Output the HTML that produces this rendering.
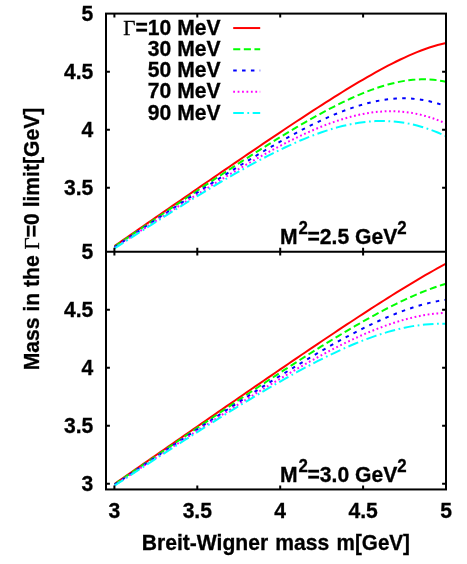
<!DOCTYPE html>
<html><head><meta charset="utf-8"><title>plot</title>
<style>html,body{margin:0;padding:0;background:#fff;}svg{display:block;will-change:transform;}</style>
</head><body>
<svg width="467" height="564" viewBox="0 0 467 564">
<rect width="100%" height="100%" fill="#fff"/>
<path d="M114.40,246.13 L118.54,243.25 L122.69,240.38 L126.84,237.50 L130.98,234.63 L135.12,231.75 L139.27,228.88 L143.41,226.01 L147.56,223.14 L151.71,220.27 L155.85,217.39 L160.00,214.53 L164.14,211.66 L168.29,208.79 L172.43,205.92 L176.58,203.06 L180.72,200.20 L184.86,197.33 L189.01,194.47 L193.16,191.62 L197.30,188.76 L201.44,185.90 L205.59,183.05 L209.74,180.20 L213.88,177.35 L218.03,174.51 L222.17,171.66 L226.31,168.82 L230.46,165.99 L234.61,163.16 L238.75,160.33 L242.90,157.50 L247.04,154.68 L251.19,151.86 L255.33,149.05 L259.48,146.24 L263.62,143.44 L267.76,140.64 L271.91,137.85 L276.06,135.07 L280.20,132.30 L284.35,129.53 L288.49,126.77 L292.64,124.02 L296.78,121.28 L300.93,118.55 L305.07,115.83 L309.22,113.12 L313.36,110.42 L317.50,107.74 L321.65,105.08 L325.80,102.43 L329.94,99.79 L334.09,97.18 L338.23,94.58 L342.38,92.01 L346.52,89.46 L350.66,86.94 L354.81,84.44 L358.95,81.97 L363.10,79.54 L367.25,77.13 L371.39,74.77 L375.54,72.44 L379.68,70.16 L383.83,67.92 L387.97,65.73 L392.12,63.59 L396.26,61.51 L400.40,59.50 L404.55,57.55 L408.70,55.67 L412.84,53.87 L416.99,52.15 L421.13,50.52 L425.27,48.98 L429.42,47.55 L433.57,46.23 L437.71,45.02 L441.86,43.93 L446.00,42.98" fill="none" stroke="#ff0000" stroke-width="2"/>
<path d="M114.40,246.76 L118.54,243.94 L122.69,241.12 L126.84,238.30 L130.98,235.48 L135.12,232.66 L139.27,229.84 L143.41,227.03 L147.56,224.22 L151.71,221.41 L155.85,218.60 L160.00,215.79 L164.14,212.99 L168.29,210.19 L172.43,207.40 L176.58,204.60 L180.72,201.82 L184.86,199.03 L189.01,196.25 L193.16,193.48 L197.30,190.71 L201.44,187.95 L205.59,185.19 L209.74,182.44 L213.88,179.69 L218.03,176.95 L222.17,174.22 L226.31,171.50 L230.46,168.79 L234.61,166.08 L238.75,163.39 L242.90,160.71 L247.04,158.04 L251.19,155.38 L255.33,152.73 L259.48,150.10 L263.62,147.48 L267.76,144.88 L271.91,142.29 L276.06,139.72 L280.20,137.17 L284.35,134.65 L288.49,132.14 L292.64,129.66 L296.78,127.20 L300.93,124.77 L305.07,122.37 L309.22,119.99 L313.36,117.66 L317.50,115.35 L321.65,113.08 L325.80,110.86 L329.94,108.67 L334.09,106.53 L338.23,104.44 L342.38,102.41 L346.52,100.42 L350.66,98.50 L354.81,96.64 L358.95,94.84 L363.10,93.12 L367.25,91.47 L371.39,89.90 L375.54,88.42 L379.68,87.02 L383.83,85.73 L387.97,84.53 L392.12,83.44 L396.26,82.47 L400.40,81.61 L404.55,80.88 L408.70,80.28 L412.84,79.82 L416.99,79.50 L421.13,79.33 L425.27,79.31 L429.42,79.46 L433.57,79.78 L437.71,80.27 L441.86,80.93 L446.00,81.77" fill="none" stroke="#00ff00" stroke-width="2" stroke-dasharray="7.08 3.54"/>
<path d="M114.40,247.37 L118.54,244.60 L122.69,241.83 L126.84,239.06 L130.98,236.29 L135.12,233.53 L139.27,230.77 L143.41,228.01 L147.56,225.26 L151.71,222.51 L155.85,219.76 L160.00,217.01 L164.14,214.28 L168.29,211.54 L172.43,208.81 L176.58,206.09 L180.72,203.37 L184.86,200.66 L189.01,197.96 L193.16,195.26 L197.30,192.58 L201.44,189.90 L205.59,187.23 L209.74,184.57 L213.88,181.92 L218.03,179.28 L222.17,176.66 L226.31,174.04 L230.46,171.44 L234.61,168.86 L238.75,166.29 L242.90,163.73 L247.04,161.20 L251.19,158.68 L255.33,156.18 L259.48,153.70 L263.62,151.24 L267.76,148.81 L271.91,146.41 L276.06,144.03 L280.20,141.67 L284.35,139.35 L288.49,137.07 L292.64,134.81 L296.78,132.59 L300.93,130.41 L305.07,128.28 L309.22,126.18 L313.36,124.14 L317.50,122.14 L321.65,120.19 L325.80,118.30 L329.94,116.47 L334.09,114.70 L338.23,113.00 L342.38,111.37 L346.52,109.81 L350.66,108.34 L354.81,106.94 L358.95,105.63 L363.10,104.41 L367.25,103.29 L371.39,102.27 L375.54,101.36 L379.68,100.55 L383.83,99.87 L387.97,99.30 L392.12,98.86 L396.26,98.55 L400.40,98.38 L404.55,98.34 L408.70,98.45 L412.84,98.71 L416.99,99.11 L421.13,99.68 L425.27,100.40 L429.42,101.27 L433.57,102.31 L437.71,103.51 L441.86,104.87 L446.00,106.39" fill="none" stroke="#0000ff" stroke-width="2" stroke-dasharray="3.54 5.31"/>
<path d="M114.40,247.94 L118.54,245.22 L122.69,242.51 L126.84,239.79 L130.98,237.08 L135.12,234.37 L139.27,231.66 L143.41,228.96 L147.56,226.26 L151.71,223.56 L155.85,220.87 L160.00,218.19 L164.14,215.51 L168.29,212.84 L172.43,210.17 L176.58,207.52 L180.72,204.87 L184.86,202.23 L189.01,199.60 L193.16,196.98 L197.30,194.37 L201.44,191.77 L205.59,189.18 L209.74,186.61 L213.88,184.05 L218.03,181.50 L222.17,178.97 L226.31,176.46 L230.46,173.96 L234.61,171.48 L238.75,169.03 L242.90,166.59 L247.04,164.18 L251.19,161.78 L255.33,159.42 L259.48,157.08 L263.62,154.77 L267.76,152.49 L271.91,150.24 L276.06,148.02 L280.20,145.84 L284.35,143.70 L288.49,141.60 L292.64,139.54 L296.78,137.53 L300.93,135.56 L305.07,133.65 L309.22,131.79 L313.36,129.98 L317.50,128.23 L321.65,126.55 L325.80,124.93 L329.94,123.38 L334.09,121.91 L338.23,120.51 L342.38,119.20 L346.52,117.97 L350.66,116.82 L354.81,115.77 L358.95,114.82 L363.10,113.97 L367.25,113.23 L371.39,112.59 L375.54,112.07 L379.68,111.67 L383.83,111.39 L387.97,111.24 L392.12,111.21 L396.26,111.32 L400.40,111.56 L404.55,111.94 L408.70,112.46 L412.84,113.12 L416.99,113.92 L421.13,114.87 L425.27,115.96 L429.42,117.19 L433.57,118.56 L437.71,120.07 L441.86,121.72 L446.00,123.49" fill="none" stroke="#ff00ff" stroke-width="2" stroke-dasharray="1.77 2.66"/>
<path d="M114.40,248.49 L118.54,245.82 L122.69,243.16 L126.84,240.49 L130.98,237.83 L135.12,235.17 L139.27,232.52 L143.41,229.87 L147.56,227.22 L151.71,224.58 L155.85,221.95 L160.00,219.32 L164.14,216.70 L168.29,214.09 L172.43,211.49 L176.58,208.89 L180.72,206.31 L184.86,203.73 L189.01,201.17 L193.16,198.62 L197.30,196.08 L201.44,193.56 L205.59,191.05 L209.74,188.56 L213.88,186.08 L218.03,183.62 L222.17,181.18 L226.31,178.76 L230.46,176.36 L234.61,173.98 L238.75,171.62 L242.90,169.30 L247.04,166.99 L251.19,164.72 L255.33,162.47 L259.48,160.26 L263.62,158.07 L267.76,155.93 L271.91,153.82 L276.06,151.75 L280.20,149.72 L284.35,147.73 L288.49,145.80 L292.64,143.91 L296.78,142.07 L300.93,140.28 L305.07,138.55 L309.22,136.89 L313.36,135.28 L317.50,133.74 L321.65,132.27 L325.80,130.88 L329.94,129.56 L334.09,128.32 L338.23,127.16 L342.38,126.09 L346.52,125.11 L350.66,124.23 L354.81,123.44 L358.95,122.76 L363.10,122.18 L367.25,121.71 L371.39,121.36 L375.54,121.11 L379.68,120.99 L383.83,120.99 L387.97,121.11 L392.12,121.35 L396.26,121.73 L400.40,122.23 L404.55,122.86 L408.70,123.62 L412.84,124.51 L416.99,125.53 L421.13,126.68 L425.27,127.96 L429.42,129.36 L433.57,130.87 L437.71,132.51 L441.86,134.26 L446.00,136.11" fill="none" stroke="#00ffff" stroke-width="2" stroke-dasharray="10.62 3.54 1.77 3.54"/>
<path d="M114.40,483.99 L118.54,481.11 L122.69,478.23 L126.84,475.35 L130.98,472.47 L135.12,469.60 L139.27,466.72 L143.41,463.84 L147.56,460.96 L151.71,458.08 L155.85,455.21 L160.00,452.33 L164.14,449.46 L168.29,446.58 L172.43,443.71 L176.58,440.83 L180.72,437.96 L184.86,435.09 L189.01,432.22 L193.16,429.34 L197.30,426.47 L201.44,423.61 L205.59,420.74 L209.74,417.87 L213.88,415.01 L218.03,412.14 L222.17,409.28 L226.31,406.42 L230.46,403.56 L234.61,400.70 L238.75,397.84 L242.90,394.99 L247.04,392.13 L251.19,389.28 L255.33,386.43 L259.48,383.59 L263.62,380.74 L267.76,377.90 L271.91,375.06 L276.06,372.23 L280.20,369.40 L284.35,366.57 L288.49,363.74 L292.64,360.92 L296.78,358.10 L300.93,355.29 L305.07,352.48 L309.22,349.67 L313.36,346.87 L317.50,344.08 L321.65,341.29 L325.80,338.51 L329.94,335.73 L334.09,332.96 L338.23,330.20 L342.38,327.45 L346.52,324.70 L350.66,321.96 L354.81,319.24 L358.95,316.52 L363.10,313.82 L367.25,311.12 L371.39,308.44 L375.54,305.77 L379.68,303.12 L383.83,300.48 L387.97,297.86 L392.12,295.26 L396.26,292.67 L400.40,290.11 L404.55,287.56 L408.70,285.04 L412.84,282.55 L416.99,280.08 L421.13,277.64 L425.27,275.23 L429.42,272.85 L433.57,270.50 L437.71,268.20 L441.86,265.93 L446.00,263.71" fill="none" stroke="#ff0000" stroke-width="2"/>
<path d="M114.40,484.45 L118.54,481.61 L122.69,478.78 L126.84,475.95 L130.98,473.11 L135.12,470.28 L139.27,467.45 L143.41,464.62 L147.56,461.78 L151.71,458.96 L155.85,456.13 L160.00,453.30 L164.14,450.47 L168.29,447.65 L172.43,444.83 L176.58,442.01 L180.72,439.19 L184.86,436.37 L189.01,433.56 L193.16,430.75 L197.30,427.94 L201.44,425.13 L205.59,422.33 L209.74,419.53 L213.88,416.73 L218.03,413.94 L222.17,411.15 L226.31,408.36 L230.46,405.58 L234.61,402.81 L238.75,400.03 L242.90,397.27 L247.04,394.51 L251.19,391.75 L255.33,389.00 L259.48,386.26 L263.62,383.52 L267.76,380.79 L271.91,378.07 L276.06,375.36 L280.20,372.65 L284.35,369.96 L288.49,367.27 L292.64,364.60 L296.78,361.93 L300.93,359.28 L305.07,356.64 L309.22,354.01 L313.36,351.40 L317.50,348.80 L321.65,346.21 L325.80,343.65 L329.94,341.10 L334.09,338.56 L338.23,336.05 L342.38,333.56 L346.52,331.09 L350.66,328.65 L354.81,326.23 L358.95,323.83 L363.10,321.47 L367.25,319.13 L371.39,316.83 L375.54,314.56 L379.68,312.33 L383.83,310.13 L387.97,307.98 L392.12,305.87 L396.26,303.80 L400.40,301.78 L404.55,299.82 L408.70,297.91 L412.84,296.05 L416.99,294.26 L421.13,292.53 L425.27,290.87 L429.42,289.29 L433.57,287.78 L437.71,286.35 L441.86,285.00 L446.00,283.74" fill="none" stroke="#00ff00" stroke-width="2" stroke-dasharray="7.08 3.54"/>
<path d="M114.40,484.88 L118.54,482.09 L122.69,479.31 L126.84,476.52 L130.98,473.73 L135.12,470.94 L139.27,468.15 L143.41,465.37 L147.56,462.58 L151.71,459.80 L155.85,457.02 L160.00,454.24 L164.14,451.46 L168.29,448.69 L172.43,445.91 L176.58,443.14 L180.72,440.38 L184.86,437.62 L189.01,434.86 L193.16,432.10 L197.30,429.35 L201.44,426.61 L205.59,423.86 L209.74,421.13 L213.88,418.40 L218.03,415.67 L222.17,412.95 L226.31,410.24 L230.46,407.53 L234.61,404.83 L238.75,402.14 L242.90,399.46 L247.04,396.78 L251.19,394.12 L255.33,391.46 L259.48,388.81 L263.62,386.18 L267.76,383.55 L271.91,380.94 L276.06,378.34 L280.20,375.75 L284.35,373.18 L288.49,370.62 L292.64,368.08 L296.78,365.55 L300.93,363.04 L305.07,360.55 L309.22,358.08 L313.36,355.63 L317.50,353.21 L321.65,350.80 L325.80,348.42 L329.94,346.07 L334.09,343.75 L338.23,341.45 L342.38,339.19 L346.52,336.95 L350.66,334.75 L354.81,332.59 L358.95,330.47 L363.10,328.39 L367.25,326.35 L371.39,324.36 L375.54,322.41 L379.68,320.52 L383.83,318.68 L387.97,316.89 L392.12,315.17 L396.26,313.50 L400.40,311.91 L404.55,310.38 L408.70,308.93 L412.84,307.55 L416.99,306.25 L421.13,305.04 L425.27,303.92 L429.42,302.88 L433.57,301.95 L437.71,301.11 L441.86,300.38 L446.00,299.76" fill="none" stroke="#0000ff" stroke-width="2" stroke-dasharray="3.54 5.31"/>
<path d="M114.40,485.30 L118.54,482.55 L122.69,479.81 L126.84,477.06 L130.98,474.32 L135.12,471.57 L139.27,468.83 L143.41,466.09 L147.56,463.35 L151.71,460.61 L155.85,457.88 L160.00,455.14 L164.14,452.41 L168.29,449.69 L172.43,446.96 L176.58,444.25 L180.72,441.53 L184.86,438.82 L189.01,436.12 L193.16,433.42 L197.30,430.72 L201.44,428.03 L205.59,425.35 L209.74,422.67 L213.88,420.01 L218.03,417.35 L222.17,414.69 L226.31,412.05 L230.46,409.41 L234.61,406.79 L238.75,404.17 L242.90,401.56 L247.04,398.97 L251.19,396.39 L255.33,393.82 L259.48,391.26 L263.62,388.72 L267.76,386.19 L271.91,383.67 L276.06,381.18 L280.20,378.70 L284.35,376.24 L288.49,373.80 L292.64,371.37 L296.78,368.97 L300.93,366.60 L305.07,364.24 L309.22,361.91 L313.36,359.61 L317.50,357.34 L321.65,355.09 L325.80,352.88 L329.94,350.70 L334.09,348.56 L338.23,346.45 L342.38,344.38 L346.52,342.35 L350.66,340.36 L354.81,338.42 L358.95,336.53 L363.10,334.68 L367.25,332.89 L371.39,331.15 L375.54,329.47 L379.68,327.85 L383.83,326.30 L387.97,324.81 L392.12,323.39 L396.26,322.05 L400.40,320.78 L404.55,319.59 L408.70,318.49 L412.84,317.47 L416.99,316.54 L421.13,315.71 L425.27,314.98 L429.42,314.34 L433.57,313.81 L437.71,313.39 L441.86,313.08 L446.00,312.89" fill="none" stroke="#ff00ff" stroke-width="2" stroke-dasharray="1.77 2.66"/>
<path d="M114.40,485.70 L118.54,482.99 L122.69,480.29 L126.84,477.59 L130.98,474.89 L135.12,472.19 L139.27,469.49 L143.41,466.79 L147.56,464.09 L151.71,461.40 L155.85,458.71 L160.00,456.02 L164.14,453.34 L168.29,450.66 L172.43,447.98 L176.58,445.31 L180.72,442.65 L184.86,439.99 L189.01,437.33 L193.16,434.69 L197.30,432.05 L201.44,429.41 L205.59,426.79 L209.74,424.17 L213.88,421.56 L218.03,418.96 L222.17,416.37 L226.31,413.79 L230.46,411.22 L234.61,408.67 L238.75,406.12 L242.90,403.59 L247.04,401.07 L251.19,398.57 L255.33,396.08 L259.48,393.60 L263.62,391.15 L267.76,388.71 L271.91,386.29 L276.06,383.89 L280.20,381.51 L284.35,379.15 L288.49,376.81 L292.64,374.50 L296.78,372.21 L300.93,369.96 L305.07,367.73 L309.22,365.52 L313.36,363.35 L317.50,361.22 L321.65,359.12 L325.80,357.05 L329.94,355.02 L334.09,353.03 L338.23,351.09 L342.38,349.19 L346.52,347.34 L350.66,345.53 L354.81,343.78 L358.95,342.08 L363.10,340.43 L367.25,338.85 L371.39,337.32 L375.54,335.86 L379.68,334.47 L383.83,333.15 L387.97,331.90 L392.12,330.73 L396.26,329.64 L400.40,328.63 L404.55,327.71 L408.70,326.87 L412.84,326.13 L416.99,325.48 L421.13,324.93 L425.27,324.49 L429.42,324.14 L433.57,323.91 L437.71,323.78 L441.86,323.77 L446.00,323.87" fill="none" stroke="#00ffff" stroke-width="2" stroke-dasharray="10.62 3.54 1.77 3.54"/>
<path d="M233.20,28.05 L260.20,28.05" fill="none" stroke="#ff0000" stroke-width="2"/>
<path d="M233.20,49.29 L260.20,49.29" fill="none" stroke="#00ff00" stroke-width="2" stroke-dasharray="7.08 3.54"/>
<path d="M233.20,70.53 L260.20,70.53" fill="none" stroke="#0000ff" stroke-width="2" stroke-dasharray="3.54 5.31"/>
<path d="M233.20,91.77 L260.20,91.77" fill="none" stroke="#ff00ff" stroke-width="2" stroke-dasharray="1.77 2.66"/>
<path d="M233.20,113.01 L260.20,113.01" fill="none" stroke="#00ffff" stroke-width="2" stroke-dasharray="10.62 3.54 1.77 3.54"/>
<g stroke="#000" stroke-width="2" fill="none">
<rect x="106.00" y="13.60" width="340.00" height="475.85"/>
<path d="M106.00,251.65 H446.00"/>
<path d="M114.40,13.60 v3.90 M114.40,247.75 v7.80 M114.40,489.45 v-3.90 M197.30,13.60 v3.90 M197.30,247.75 v7.80 M197.30,489.45 v-3.90 M280.20,13.60 v3.90 M280.20,247.75 v7.80 M280.20,489.45 v-3.90 M363.10,13.60 v3.90 M363.10,247.75 v7.80 M363.10,489.45 v-3.90 M106.00,71.65 h3.90 M446.00,71.65 h-3.90 M106.00,309.68 h3.90 M446.00,309.68 h-3.90 M106.00,129.70 h3.90 M446.00,129.70 h-3.90 M106.00,367.70 h3.90 M446.00,367.70 h-3.90 M106.00,187.75 h3.90 M446.00,187.75 h-3.90 M106.00,425.73 h3.90 M446.00,425.73 h-3.90 M106.00,483.75 h3.90 M446.00,483.75 h-3.90"/>
</g>
<g font-family="'Liberation Sans', sans-serif" font-weight="bold" font-size="21.10" fill="#000" stroke="#000" stroke-width="0.3">
<text transform="translate(93.30,21.00) scale(1,1.040)" text-anchor="end">5</text>
<text transform="translate(93.30,79.05) scale(1,1.040)" text-anchor="end">4.5</text>
<text transform="translate(93.30,137.10) scale(1,1.040)" text-anchor="end">4</text>
<text transform="translate(93.30,195.15) scale(1,1.040)" text-anchor="end">3.5</text>
<text transform="translate(93.30,258.95) scale(1,1.040)" text-anchor="end">5</text>
<text transform="translate(93.30,316.98) scale(1,1.040)" text-anchor="end">4.5</text>
<text transform="translate(93.30,375.00) scale(1,1.040)" text-anchor="end">4</text>
<text transform="translate(93.30,433.03) scale(1,1.040)" text-anchor="end">3.5</text>
<text transform="translate(93.30,491.05) scale(1,1.040)" text-anchor="end">3</text>
<text transform="translate(114.40,517.90) scale(1,1.040)" text-anchor="middle">3</text>
<text transform="translate(197.30,517.90) scale(1,1.040)" text-anchor="middle">3.5</text>
<text transform="translate(280.20,517.90) scale(1,1.040)" text-anchor="middle">4</text>
<text transform="translate(363.10,517.90) scale(1,1.040)" text-anchor="middle">4.5</text>
<text transform="translate(446.00,517.90) scale(1,1.040)" text-anchor="middle">5</text>
<text transform="translate(141.80,549.60) scale(1,1.040)">Breit-Wigner</text>
<text transform="translate(275.30,549.60) scale(1,1.040)">mass</text>
<text transform="translate(336.60,549.60) scale(1,1.040)" textLength="73.4" lengthAdjust="spacingAndGlyphs">m[GeV]</text>
<text transform="translate(39.30,370.20) rotate(-90) scale(1,1.040)">Mass in the <tspan font-family="'Liberation Serif', serif" font-weight="normal">Γ</tspan>=0 limit[GeV]</text>
<text transform="translate(220.50,34.55) scale(1,1.040)" text-anchor="end"><tspan font-family="'Liberation Serif', serif" font-weight="normal">Γ</tspan>=10 MeV</text>
<text transform="translate(220.50,55.79) scale(1,1.040)" text-anchor="end">30 MeV</text>
<text transform="translate(220.50,77.03) scale(1,1.040)" text-anchor="end">50 MeV</text>
<text transform="translate(220.50,98.27) scale(1,1.040)" text-anchor="end">70 MeV</text>
<text transform="translate(220.50,119.51) scale(1,1.040)" text-anchor="end">90 MeV</text>
<text transform="translate(280.00,243.90) scale(1,1.040)">M</text>
<text transform="translate(298.60,233.50) scale(1,1.040)" font-size="16.88">2</text>
<text transform="translate(307.50,243.90) scale(1,1.040)">=2.5 GeV</text>
<text transform="translate(397.30,233.50) scale(1,1.040)" font-size="16.88">2</text>
<text transform="translate(280.00,481.90) scale(1,1.040)">M</text>
<text transform="translate(298.60,471.50) scale(1,1.040)" font-size="16.88">2</text>
<text transform="translate(307.50,481.90) scale(1,1.040)">=3.0 GeV</text>
<text transform="translate(397.30,471.50) scale(1,1.040)" font-size="16.88">2</text>
</g>
</svg>
</body></html>
